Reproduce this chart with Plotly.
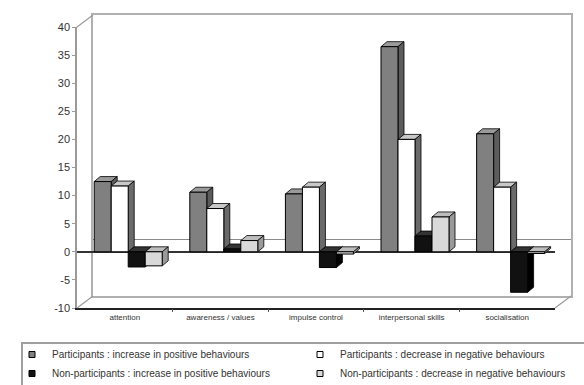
import plotly.graph_objects as go

# ---- data -------------------------------------------------------------
categories = ["attention", "awareness / values", "impulse control",
              "interpersonal skills", "socialisation"]
series_names = [
    "Participants : increase in positive behaviours",
    "Participants : decrease in negative behaviours",
    "Non-participants : increase in positive behaviours",
    "Non-participants : decrease in negative behaviours",
]
part_inc_pos = [12.5, 10.6, 10.3, 36.5, 21.0]
part_dec_neg = [11.7, 7.7, 11.5, 20.0, 11.5]
nonpart_inc_pos = [-2.7, 0.5, -2.8, 2.8, -7.2]
nonpart_dec_neg = [-2.5, 2.0, -0.4, 6.2, -0.3]
y_ticks = [-10, -5, 0, 5, 10, 15, 20, 25, 30, 35, 40]
y_tick_text = [str(v) for v in y_ticks]

series_values = [part_inc_pos, part_dec_neg, nonpart_inc_pos, nonpart_dec_neg]

# ---- styling ----------------------------------------------------------
W, H = 584, 385
front_fill = ["#808080", "#ffffff", "#111111", "#d9d9d9"]
side_fill = ["#5c5c5c", "#6a6a6a", "#000000", "#9a9a9a"]
top_fill = ["#9a9a9a", "#c8c8c8", "#333333", "#bdbdbd"]
FONT = "Liberation Sans, Arial, sans-serif"

# plot geometry in pixels (front plane and back wall)
fx0, fx1 = 77, 555          # front plane left/right
fy_top, fy_bot = 27, 308    # y of 40 and -10 on the front plane
ddx, ddy = 16, 12           # wall depth offset
x_range = [-0.5, 4.5]
y_range = [-10, 40]

px_per_x = (fx1 - fx0) / (x_range[1] - x_range[0])
px_per_y = (fy_bot - fy_top) / (y_range[1] - y_range[0])

bar_w = 17 / px_per_x
offsets = [-0.32 + k * bar_w for k in range(4)]
depth_x = 6 / px_per_x
depth_y = 5 / px_per_y


def fx(p):
    return p / W


def fy(p):
    return 1 - p / H


fig = go.Figure()

# empty trace so the back-wall subplot gets drawn
fig.add_trace(go.Scatter(x=[None], y=[None], xaxis="x", yaxis="y",
                         showlegend=False, hoverinfo="skip"))

# extrusion faces (drawn beneath the bar fronts)
for k, vals in enumerate(series_values):
    for i, v in enumerate(vals):
        x0 = i + offsets[k]
        x1 = x0 + bar_w
        top = max(v, 0)
        low = min(v, 0)
        fig.add_trace(go.Scatter(
            x=[x0, x0 + depth_x, x1 + depth_x, x1, x0],
            y=[top, top + depth_y, top + depth_y, top, top],
            fill="toself", fillcolor=top_fill[k], mode="lines",
            line=dict(color="#000000", width=0.8),
            xaxis="x2", yaxis="y2", showlegend=False, hoverinfo="skip"))
        fig.add_trace(go.Scatter(
            x=[x1, x1, x1 + depth_x, x1 + depth_x, x1],
            y=[low, top, top + depth_y, low + depth_y, low],
            fill="toself", fillcolor=side_fill[k], mode="lines",
            line=dict(color="#000000", width=0.8),
            xaxis="x2", yaxis="y2", showlegend=False, hoverinfo="skip"))

# bar fronts
for k, vals in enumerate(series_values):
    fig.add_trace(go.Bar(
        x=list(range(len(categories))), y=vals, name=series_names[k],
        width=bar_w, offset=offsets[k],
        marker=dict(color=front_fill[k], line=dict(color="#000000", width=1)),
        xaxis="x3", yaxis="y3", showlegend=False))

# legend keys: small squares, two columns
legend_cols = ["legend", "legend2", "legend", "legend2"]
for k in range(4):
    fig.add_trace(go.Scatter(
        x=[None], y=[None], mode="markers", name=series_names[k],
        marker=dict(symbol="square", size=6, color=front_fill[k],
                    line=dict(color="#000000", width=1)),
        xaxis="x3", yaxis="y3", legend=legend_cols[k], showlegend=True))

# ---- axes ---------------------------------------------------------------
front_xdom = [fx(fx0), fx(fx1)]
front_ydom = [fy(fy_bot), fy(fy_top)]
back_xdom = [fx(fx0 + ddx), fx(fx1 + ddx)]
back_ydom = [fy(fy_bot - ddy), fy(fy_top - ddy)]

legend_style = dict(orientation="v", yanchor="top", xanchor="left",
                    font=dict(size=10, color="#333333"),
                    bgcolor="rgba(0,0,0,0)", itemwidth=30,
                    tracegroupgap=0, traceorder="normal")

fig.update_layout(
    width=W, height=H,
    margin=dict(l=0, r=0, t=0, b=0, autoexpand=False),
    paper_bgcolor="#ffffff", plot_bgcolor="rgba(0,0,0,0)",
    barmode="overlay",
    showlegend=True,
    font=dict(family=FONT, color="#222222"),
    xaxis=dict(domain=back_xdom, range=x_range, anchor="y", showline=True,
               mirror=True, linecolor="#b0b0b0", linewidth=2, showgrid=False,
               zeroline=False, showticklabels=False, ticks="", fixedrange=True),
    yaxis=dict(domain=back_ydom, range=y_range, anchor="x", showline=True,
               mirror=True, linecolor="#b0b0b0", linewidth=1.5,
               showgrid=False, zeroline=True, zerolinecolor="#8a8a8a",
               zerolinewidth=1, showticklabels=False, ticks="",
               fixedrange=True),
    xaxis2=dict(domain=front_xdom, range=x_range, anchor="y2",
                showline=True, linecolor="#222222", linewidth=2,
                showgrid=False, zeroline=False,
                tickmode="array", tickvals=list(range(len(categories))),
                ticktext=categories, ticks="",
                tickfont=dict(size=8, color="#333333"), fixedrange=True),
    yaxis2=dict(domain=front_ydom, range=y_range, anchor="x2",
                showline=True, linecolor="#9a9a9a", linewidth=1.5,
                showgrid=False, zeroline=True, zerolinecolor="#333333",
                zerolinewidth=1.5, tickmode="array", tickvals=y_ticks,
                ticktext=y_tick_text,
                ticks="outside", ticklen=3, tickcolor="#9a9a9a",
                tickfont=dict(size=11, color="#333333"), fixedrange=True),
    xaxis3=dict(domain=front_xdom, range=x_range, anchor="y3",
                overlaying="x2", showline=False, showgrid=False,
                zeroline=False, tickmode="array",
                tickvals=[0.5, 1.5, 2.5, 3.5], ticks="outside", ticklen=3,
                tickcolor="#555555", showticklabels=False, fixedrange=True),
    yaxis3=dict(domain=front_ydom, range=y_range, anchor="x3",
                overlaying="y2", showline=False, showgrid=False,
                zeroline=False, showticklabels=False, fixedrange=True),
    legend=dict(x=fx(12), y=fy(340), **legend_style),
    legend2=dict(x=fx(300), y=fy(340), **legend_style),
)

# ---- 3D frame edges ---------------------------------------------------
edge = dict(color="#9a9a9a", width=1.2)
frame_edges = [
    (fx0, fy_top, fx0 + ddx, fy_top - ddy),
    (fx0, fy_bot, fx0 + ddx, fy_bot - ddy),
    (fx1, fy_bot, fx1 + ddx, fy_bot - ddy),
]
for x0p, y0p, x1p, y1p in frame_edges:
    fig.add_shape(type="line", xref="paper", yref="paper",
                  x0=fx(x0p), y0=fy(y0p), x1=fx(x1p), y1=fy(y1p), line=edge)

# legend box
fig.add_shape(type="rect", xref="paper", yref="paper",
              x0=fx(22), y0=fy(390), x1=fx(600), y1=fy(343),
              line=dict(color="#a0a0a0", width=2), layer="below")

fig.write_html("out.html")
